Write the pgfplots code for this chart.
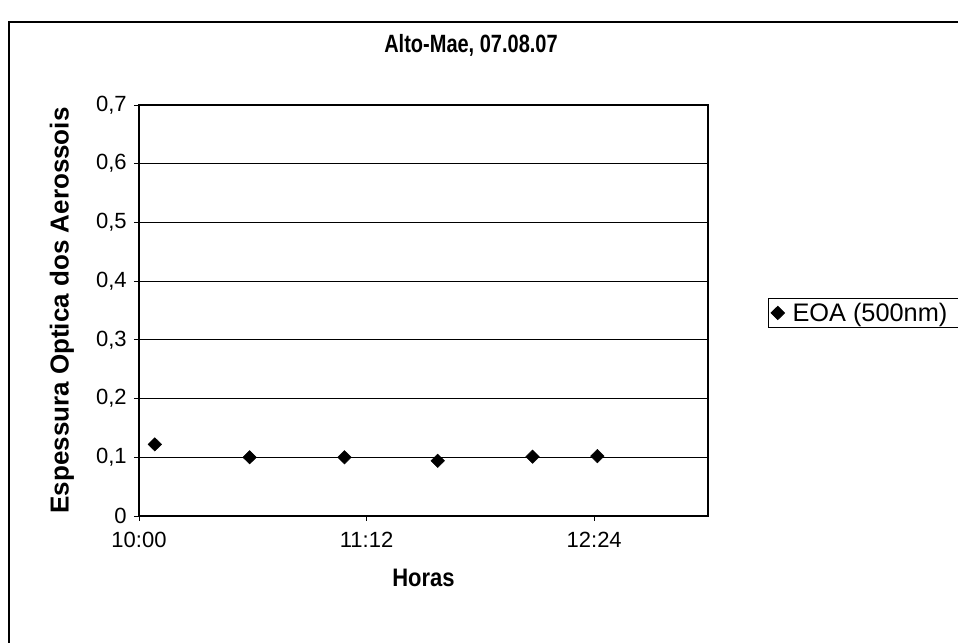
\documentclass[border=0pt]{standalone}
\usepackage{graphicx}
\usepackage{pgfplots}
\pgfplotsset{compat=1.18}
\usepackage{fontspec}
\setmainfont{Liberation Sans}
\begin{document}
\begin{tikzpicture}[x=0.75pt,y=0.75pt]
\useasboundingbox (0,0) rectangle (958,643);
\draw[line width=1.6pt] (9,-20) -- (9,621) -- (1000,621);
\begin{axis}[
  at={(104.25pt,95.25pt)}, anchor=south west,
  scale only axis, width=426.75pt, height=308.25pt,
  xmin=0, xmax=180, ymin=0, ymax=0.7,
  xtick={0,72,144}, xticklabels={10:00,11:12,12:24},
  ytick={0,0.1,0.2,0.3,0.4,0.5,0.6,0.7},
  yticklabel style={xshift=-2pt, /pgf/number format/.cd, use comma, fixed, precision=1},
  /pgf/number format/assume math mode=true,
  tick label style={font=\fontsize{16.5}{18}\selectfont},
  xticklabel style={yshift=-5pt},
  tick align=outside, xtick pos=bottom, ytick pos=left,
  major tick length=3.75pt,
  tick style={black, line width=0.7pt},
  axis line style={black, line width=0.8pt},
  ymajorgrids, grid style={black, line width=0.6pt},
  title={\scalebox{1}[1.25]{Alto-Mae, 07.08.07}},
  title style={font=\bfseries\fontsize{15}{17}\selectfont, at={(axis description cs:0.5835,1.139)}, anchor=center, yshift=-4pt},
  xlabel={\scalebox{1}[1.15]{Horas}},
  xlabel style={font=\bfseries\fontsize{16.5}{18}\selectfont, at={(axis description cs:0.5,-0.151)}, anchor=center},
  ylabel={Espessura Optica dos Aerossois},
  ylabel style={font=\bfseries\fontsize{19.5}{21}\selectfont, at={(axis description cs:-0.1353,0.5)}, anchor=center},
  legend style={at={(axis description cs:1.1054,0.494)}, anchor=west, draw=black, line width=0.6pt, font=\fontsize{19}{20}\selectfont, inner xsep=2pt, inner ysep=1.5pt, /tikz/every odd column/.append style={column sep=4pt}},
  legend image code/.code={\draw[#1] plot coordinates {(0.15cm,0cm)};},
  legend cell align=left,
]
\addplot[only marks, mark=diamond*, mark size=5pt, black, mark options={xscale=1.35}] coordinates {
  (5,0.122) (35,0.1) (65,0.1) (94.5,0.094) (124.5,0.101) (145,0.102)
};
\addlegendentry{\makebox[150pt][l]{EOA (500nm)}}
\end{axis}
\end{tikzpicture}
\end{document}
